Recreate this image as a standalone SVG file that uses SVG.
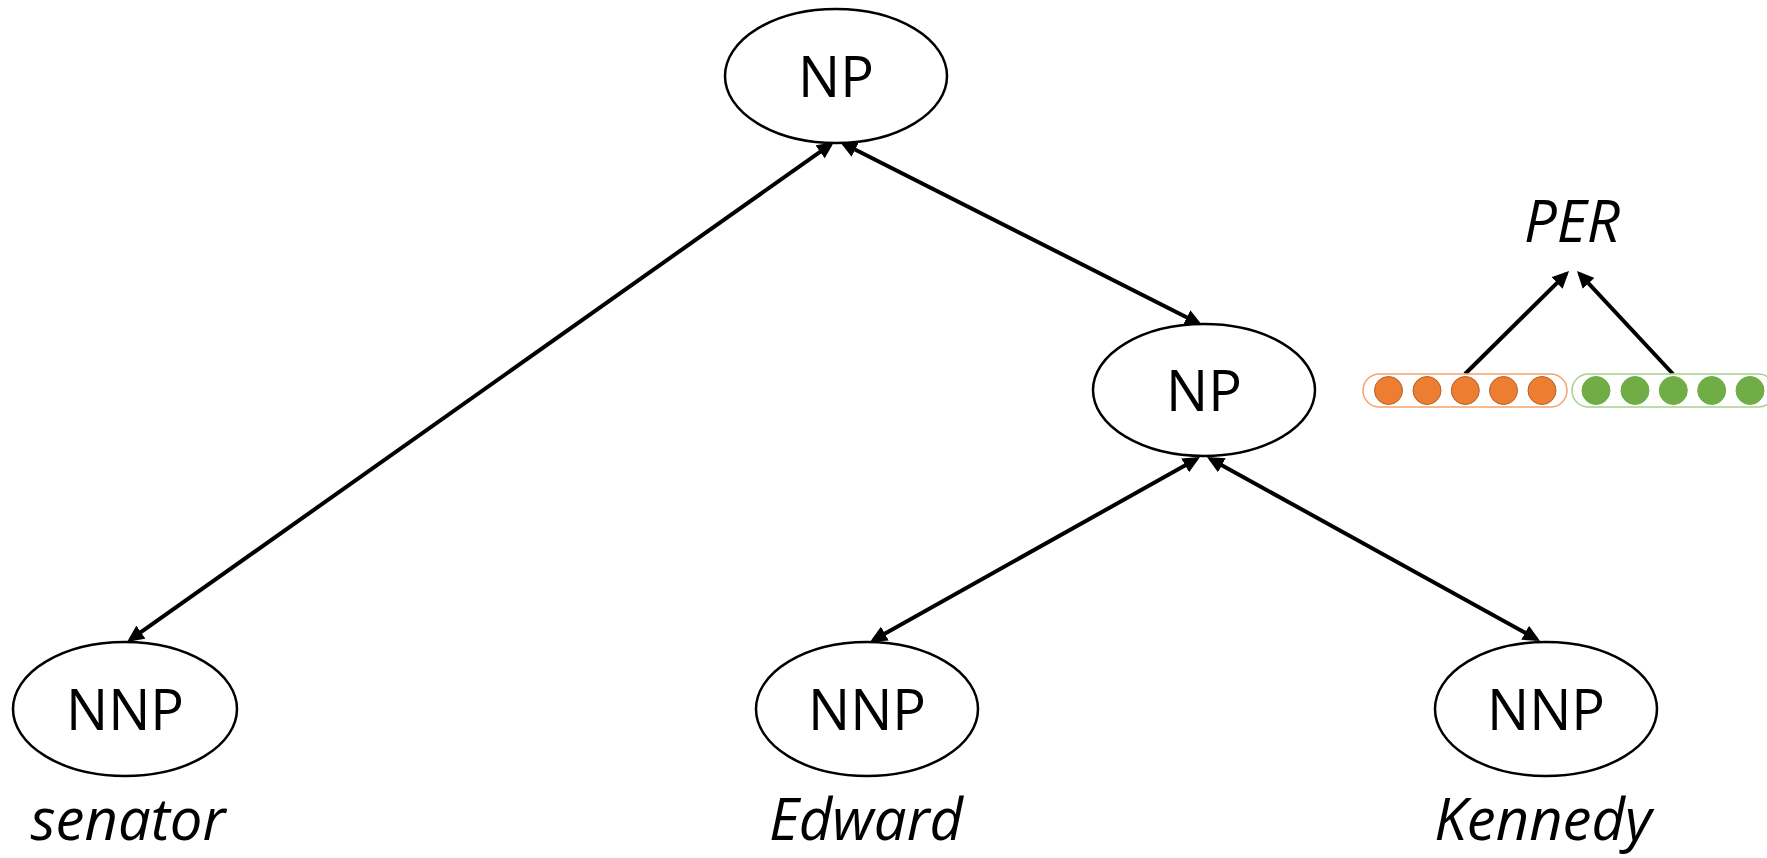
<svg xmlns="http://www.w3.org/2000/svg" width="1767" height="858" viewBox="0 0 1767 858">
<style>
.node ellipse{fill:#fff;stroke:#000;stroke-width:2.5}
.lbl{font-family:"Open Sans","Noto Sans",sans-serif;font-size:56px;fill:#000;text-anchor:middle}
.word{font-family:"Open Sans","Noto Sans",sans-serif;font-size:58px;font-style:italic;fill:#000;text-anchor:middle}
.edge{stroke:#000;stroke-width:4;fill:none}
.oc{fill:#ED7D31;stroke:#B2622A;stroke-width:1}
.gc{fill:#70AD47;stroke:#70AD47;stroke-width:1}
</style>
<defs>
<marker id="ah" markerUnits="userSpaceOnUse" markerWidth="18" markerHeight="16" refX="13" refY="8" orient="auto-start-reverse" viewBox="0 0 18 16">
<path d="M0,0 L17,8 L0,16 z" fill="#000"/>
</marker>
</defs>
<rect width="1767" height="858" fill="#fff"/>
<g id="connectors">
<line class="edge" x1="830.7" y1="144.3" x2="130.3" y2="639.7" marker-start="url(#ah)" marker-end="url(#ah)"/>
<line class="edge" x1="843.6" y1="143.8" x2="1198.4" y2="323.2" marker-start="url(#ah)" marker-end="url(#ah)"/>
<line class="edge" x1="1196.5" y1="459" x2="873.5" y2="640" marker-start="url(#ah)" marker-end="url(#ah)"/>
<line class="edge" x1="1210.5" y1="459" x2="1536.5" y2="639" marker-start="url(#ah)" marker-end="url(#ah)"/>
<line class="edge" x1="1465" y1="374" x2="1566.2" y2="273.8" marker-end="url(#ah)"/>
<line class="edge" x1="1673" y1="374" x2="1579.7" y2="273.9" marker-end="url(#ah)"/>
</g>
<g id="np-top" class="node">
<ellipse cx="836" cy="76" rx="111" ry="67"/>
<text class="lbl" x="836" y="97">NP</text>
</g>
<g id="np-mid" class="node">
<ellipse cx="1204" cy="390" rx="111" ry="66"/>
<text class="lbl" x="1204" y="411">NP</text>
</g>
<g id="nnp-senator" class="node">
<ellipse cx="125" cy="709" rx="112" ry="67"/>
<text class="lbl" x="125" y="730">NNP</text>
</g>
<g id="nnp-edward" class="node">
<ellipse cx="867" cy="709" rx="111" ry="67"/>
<text class="lbl" x="867" y="730">NNP</text>
</g>
<g id="nnp-kennedy" class="node">
<ellipse cx="1546" cy="709" rx="111" ry="67"/>
<text class="lbl" x="1546" y="730">NNP</text>
</g>
<g id="words">
<text class="word" x="128" y="840">senator</text>
<text class="word" x="866" y="840">Edward</text>
<text class="word" x="1543" y="840">Kennedy</text>
</g>
<g id="per">
<text class="word" x="1572" y="242">PER</text>
</g>
<g id="vec-orange">
<rect x="1363" y="374" width="204" height="33" rx="16.5" fill="#fff" stroke="#F4A46E" stroke-width="1.5"/>
<circle class="oc" cx="1388.5" cy="390.5" r="14"/>
<circle class="oc" cx="1427" cy="390.5" r="14"/>
<circle class="oc" cx="1465.3" cy="390.5" r="14"/>
<circle class="oc" cx="1503.5" cy="390.5" r="14"/>
<circle class="oc" cx="1542" cy="390.5" r="14"/>
</g>
<g id="vec-green">
<rect x="1572" y="374" width="203" height="33" rx="16.5" fill="#fff" stroke="#A9D18E" stroke-width="1.5"/>
<circle class="gc" cx="1596" cy="390.5" r="14"/>
<circle class="gc" cx="1635" cy="390.5" r="14"/>
<circle class="gc" cx="1673.3" cy="390.5" r="14"/>
<circle class="gc" cx="1711.7" cy="390.5" r="14"/>
<circle class="gc" cx="1750" cy="390.5" r="14"/>
</g>
</svg>
